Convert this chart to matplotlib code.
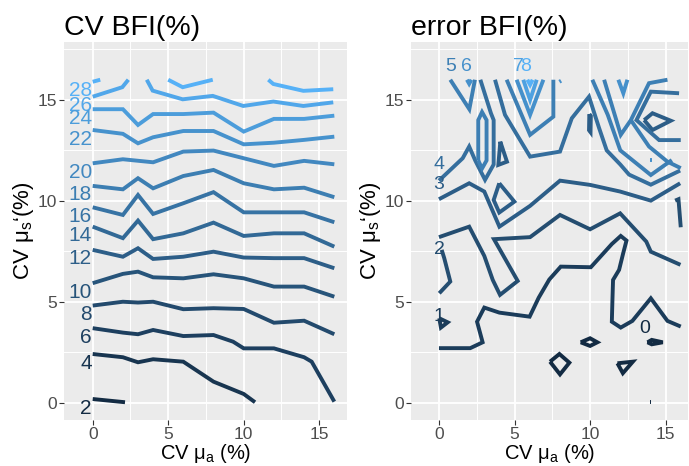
import matplotlib
matplotlib.use("Agg")
import matplotlib.pyplot as plt
from matplotlib.colors import LinearSegmentedColormap, Normalize

plt.rcParams['font.family'] = ['Liberation Sans', 'DejaVu Sans']
plt.rcParams['mathtext.fontset'] = 'custom'
plt.rcParams['mathtext.rm'] = 'Liberation Sans'
plt.rcParams['mathtext.it'] = 'Liberation Sans'

# ---- CV BFI(%) contours (x = CV mu_a, y = CV mu_s') ----
grid_x = [0, 2, 3, 4, 6, 8, 10, 12, 14, 16]

cv28_a = ([0, 0.5], [15.9, 16.0])
cv28_b = ([5.0, 5.96, 7.95], [16.0, 15.63, 16.0])
cv28_c = ([11.63, 11.96, 13.95, 15.93], [16.0, 15.79, 15.45, 15.53])
cv26_a = ([0, 1.96, 2.36], [15.16, 15.63, 16.0])
cv26_b = ([3.58, 3.97, 5.96, 7.95, 9.97, 11.96, 13.95, 15.93],
          [16.0, 15.46, 15.03, 15.20, 14.70, 14.92, 14.70, 14.88])
cv24 = (grid_x, [14.54, 14.54, 13.76, 14.30, 14.30, 14.37, 13.43, 14.06, 14.06, 14.22])
cv22 = (grid_x, [13.51, 13.32, 12.85, 13.15, 13.46, 13.46, 12.80, 12.88, 13.02, 13.18])
cv20 = ([0, 2, 4, 6, 8, 10, 12, 14, 16],
        [11.86, 12.06, 11.91, 12.44, 12.49, 12.11, 11.73, 11.98, 11.81])
cv18 = (grid_x, [10.74, 10.57, 11.12, 10.62, 11.23, 11.53, 10.87, 10.57, 10.65, 10.18])
cv16 = (grid_x, [9.68, 9.30, 10.29, 9.35, 9.88, 10.43, 9.43, 9.43, 9.43, 8.94])
cv14 = (grid_x, [8.72, 8.15, 9.02, 8.10, 8.39, 8.92, 8.26, 8.39, 8.39, 7.73])
cv12 = (grid_x, [7.57, 7.23, 7.65, 7.12, 7.23, 7.48, 7.19, 7.16, 7.16, 6.66])
cv10 = (grid_x, [5.92, 6.38, 6.49, 6.21, 6.16, 6.36, 6.16, 5.75, 5.75, 5.25])
cv8 = (grid_x, [4.81, 5.00, 4.96, 5.00, 4.63, 4.68, 4.64, 3.96, 4.06, 3.39])
cv6 = ([0, 2, 3, 4, 6, 8, 9.3, 10, 12, 14, 14.5, 16],
       [3.69, 3.47, 3.39, 3.60, 3.30, 3.35, 3.02, 2.69, 2.69, 2.25, 2.03, 0.05])
cv4 = ([0, 2, 3, 4, 6, 8, 10, 10.75], [2.41, 2.25, 2.00, 2.15, 2.03, 1.04, 0.43, 0.02])
cv2 = ([0, 2.14], [0.18, 0.02])

cv_pieces = [(28, cv28_a), (28, cv28_b), (28, cv28_c), (26, cv26_a), (26, cv26_b),
             (24, cv24), (22, cv22), (20, cv20), (18, cv18), (16, cv16), (14, cv14),
             (12, cv12), (10, cv10), (8, cv8), (6, cv6), (4, cv4), (2, cv2)]

# ---- error BFI(%) contours ----
e0_a = ([7.35, 7.97, 8.63, 8.01, 7.35], [2.03, 2.41, 1.98, 1.40, 2.03])
e0_b = ([9.38, 10.0, 10.48, 10.0, 9.38], [2.99, 3.19, 2.99, 2.81, 2.99])
e0_c = ([11.81, 12.83, 12.17, 11.81], [1.95, 2.03, 1.46, 1.95])
e0_d = ([13.8, 14.08, 14.81, 14.08, 13.8], [2.99, 3.11, 2.99, 2.89, 2.99])
e0_e = ([13.99, 14.05], [0.05, 0.05])
e1_a = ([0.02, 0.58, 0.13, 0.02], [4.18, 3.98, 3.72, 4.18])
e1_b = ([0.0, 2.07, 2.89, 2.52, 3.0, 4.0, 6.0, 6.6, 7.3, 8.06, 10.05, 11.44, 12.03, 12.41,
         12.19, 11.92, 11.52, 11.48, 11.44, 12.03, 12.80, 14.02, 15.12, 16.0],
        [2.70, 2.70, 2.99, 4.01, 4.71, 4.46, 4.26, 5.2, 6.1, 6.74, 6.71, 7.86, 8.26, 8.03,
         7.40, 6.58, 6.08, 5.09, 4.01, 3.72, 4.05, 5.17, 4.05, 3.77])
e2_a = ([0.0, 2.0, 3.0, 3.56, 4.04, 5.21, 3.64, 6.03, 8.01, 10.0, 11.99, 13.72, 14.02, 15.98],
        [8.20, 8.72, 7.27, 6.08, 5.34, 6.03, 8.10, 8.20, 9.30, 8.59, 9.38, 7.98, 7.48, 6.83])
e2_b = ([0.18, 0.35, 0.75, 0.02], [7.57, 7.16, 6.0, 5.42])
e2_c = ([15.63, 15.85, 16.0], [10.01, 10.08, 8.69])
e3_a = ([0.0, 2.0, 3.0, 4.0, 6.03, 8.01, 10.0, 11.99, 14.02, 15.96],
        [10.08, 10.87, 10.46, 8.72, 9.75, 11.0, 10.79, 10.46, 10.01, 10.87])
e3_b = ([3.99, 4.99, 3.99, 3.62, 3.99], [10.87, 9.96, 9.42, 10.04, 10.87])
e3_c = ([4.06, 4.5, 3.93, 4.06], [12.93, 11.94, 11.78, 12.93])
e3_d = ([13.58, 14.13, 15.34, 14.13, 13.58], [14.0, 14.34, 13.97, 13.51, 14.0])
e3_e = ([9.95, 10.05, 10.03, 9.93, 9.95], [14.3, 14.2, 13.4, 13.5, 14.3])
e4_a = ([0.0, 1.57, 2.0, 2.4, 3.05, 3.62, 3.62, 3.44, 2.74],
        [11.0, 12.11, 12.69, 12.0, 11.04, 11.8, 14.0, 14.34, 16.0])
e4_b = ([3.71, 4.37, 6.03, 8.01, 8.79, 9.93, 10.6, 11.1, 12.0, 12.58, 14.02, 15.96],
        [16.0, 14.26, 12.19, 12.44, 14.09, 15.16, 13.6, 12.5, 11.8, 11.3, 10.8, 11.5])
e4_c = ([15.89, 14.02, 13.07, 14.57, 16.0], [15.33, 15.41, 14.0, 13.01, 13.01])
e5_a = ([0.75, 2.01, 2.38], [16.0, 14.54, 16.0])
e5_b = ([4.48, 6.03, 7.57, 7.57], [16.0, 13.27, 14.17, 16.0])
e5_c = ([2.6, 2.6, 2.85, 3.15, 3.15, 2.85, 2.6], [12.0, 14.0, 14.4, 14.0, 12.0, 11.6, 12.0])
e5_d = ([10.15, 11.17, 12.0, 14.02, 15.41], [16.0, 14.26, 12.5, 11.28, 12.02])
e5_e = ([10.93, 12.03, 12.7, 13.9, 15.12], [16.0, 13.27, 14.0, 15.83, 16.0])
e5_f = ([12.7, 13.9, 15.12, 16.0], [14.0, 12.69, 11.94, 11.62])
e6_a = ([1.85, 2.0, 2.15], [16.0, 15.8, 16.0])
e6_b = ([5.14, 6.03, 6.91], [16.0, 14.26, 16.0])
e6_c = ([11.87, 12.2, 12.47], [16.0, 15.33, 16.0])
e6_d = ([7.97, 8.08], [15.9, 15.95])
e6_e = ([13.95, 14.1], [12.0, 12.0])
e7_a = ([5.58, 6.03, 6.47], [16.0, 15.0, 16.0])
e8_a = ([5.85, 6.03, 6.2], [16.0, 15.75, 16.0])

err_pieces = [(0, e0_a), (0, e0_b), (0, e0_c), (0, e0_d), (0, e0_e), (1, e1_a), (1, e1_b),
              (2, e2_a), (2, e2_b), (2, e2_c), (3, e3_a), (3, e3_b), (3, e3_c), (3, e3_d),
              (3, e3_e), (4, e4_a), (4, e4_b), (4, e4_c), (5, e5_a), (5, e5_b), (5, e5_c),
              (5, e5_d), (5, e5_e), (5, e5_f), (6, e6_a), (6, e6_b), (6, e6_c), (6, e6_d),
              (6, e6_e), (7, e7_a), (8, e8_a)]
err_labels = [("0", 13.64, 3.69), ("1", 0.0, 4.28), ("2", 0.0, 7.57), ("3", 0.0, 10.79),
              ("4", 0.0, 11.78), ("5", 0.75, 16.65), ("6", 1.79, 16.65),
              ("7", 5.25, 16.65), ("8", 5.76, 16.65)]

cmap = LinearSegmentedColormap.from_list("gg", ["#132B43", "#56B1F7"])

fig = plt.figure(figsize=(6.89, 4.66), dpi=100)
ax1 = fig.add_axes([64 / 689, 46 / 466, 283 / 689, 378 / 466])
ax2 = fig.add_axes([411 / 689, 46 / 466, 277 / 689, 378 / 466])


def style(ax, xlim):
    ax.set_facecolor('#EBEBEB')
    ax.set_xlim(*xlim)
    ax.set_ylim(-0.86, 17.87)
    ax.set_xticks([0, 5, 10, 15])
    ax.set_yticks([0, 5, 10, 15])
    ax.set_xticks([2.5, 7.5, 12.5], minor=True)
    ax.set_yticks([2.5, 7.5, 12.5, 17.5], minor=True)
    ax.grid(which='major', color='white', lw=1.3)
    ax.grid(which='minor', color='white', lw=0.7)
    ax.set_axisbelow(True)
    for s in ax.spines.values():
        s.set_visible(False)
    ax.tick_params(which='major', length=3.5, width=0.8, color='#333333',
                   labelsize=12.5, labelcolor='#4D4D4D', pad=1.5)
    ax.tick_params(which='minor', length=0)
    ax.set_xlabel('CV μ$_\\mathregular{a}$ (%)', fontsize=14.5, labelpad=0)
    ax.set_ylabel('CV μ$_\\mathregular{s}$\u2018(%)', fontsize=16, labelpad=1)


style(ax1, (-1.9, 16.84))
style(ax2, (-1.85, 16.48))

norm1 = Normalize(2, 28)
seen = set()
for lev, (xs, ys) in cv_pieces:
    c = cmap(norm1(lev))
    ax1.plot(xs, ys, color=c, lw=2.8, solid_capstyle='butt', solid_joinstyle='miter')
    if lev not in seen:
        seen.add(lev)
        ax1.text(xs[0] - 0.05, ys[0] - 0.45, str(lev), color=c, fontsize=15,
                 ha='right', va='center')

norm2 = Normalize(0, 8)
for lev, (xs, ys) in err_pieces:
    ax2.plot(xs, ys, color=cmap(norm2(lev)), lw=2.8, solid_capstyle='butt',
             solid_joinstyle='miter')
for txt, x, y in err_labels:
    ax2.text(x, y, txt, color=cmap(norm2(int(txt))), fontsize=14, ha='center', va='center')

ax1.set_title('CV BFI(%)', loc='left', fontsize=20.5, pad=5)
ax2.set_title('error BFI(%)', loc='left', fontsize=20.5, pad=5)

fig.savefig('out.png', dpi=100)
